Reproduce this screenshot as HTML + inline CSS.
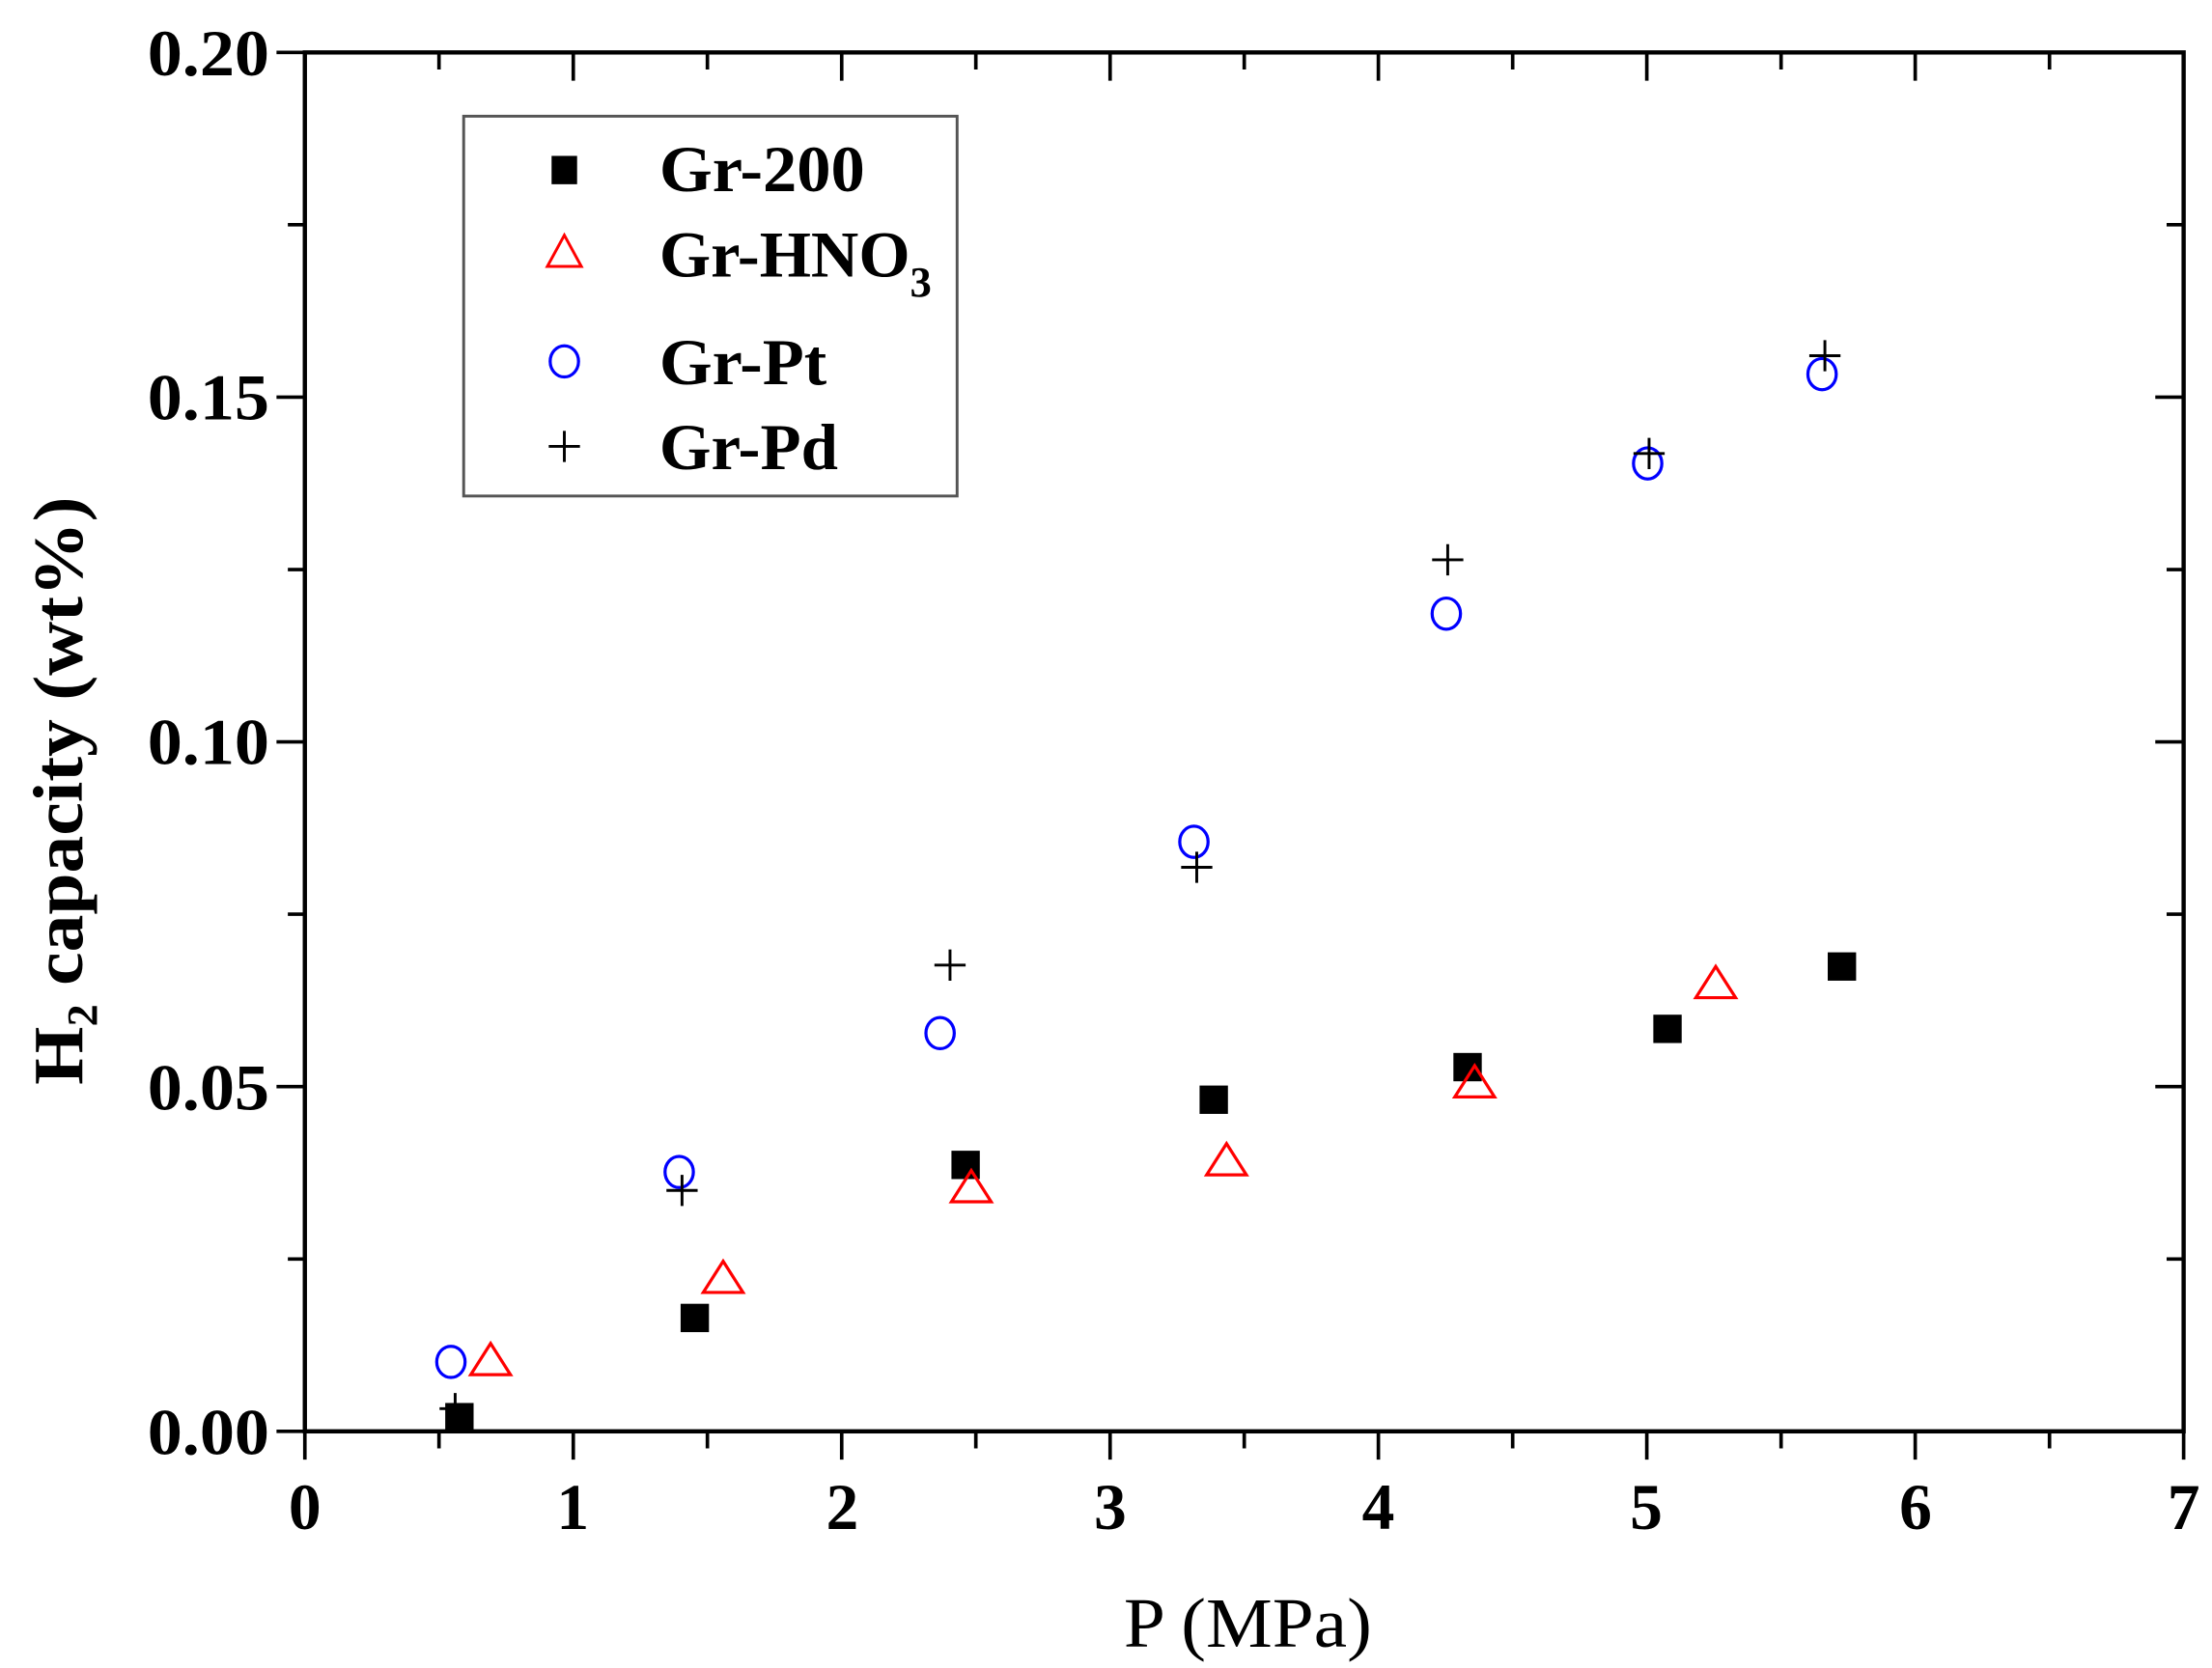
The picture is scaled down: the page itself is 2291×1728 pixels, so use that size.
<!DOCTYPE html>
<html><head><style>html,body{margin:0;padding:0;background:#fff;}svg{display:block}
text{font-family:"Liberation Serif","Times New Roman",serif;}</style></head>
<body>
<svg width="2291" height="1728" viewBox="0 0 1560 1177" preserveAspectRatio="none" xmlns="http://www.w3.org/2000/svg">
<rect width="1560" height="1177" fill="#fff"/>
<g stroke="#000" stroke-width="3" fill="none">
<rect x="215" y="37" width="1325" height="973"/>
<path d="M215 1010v20M404.3 1010v20M593.6 1010v20M782.9 1010v20M972.1 1010v20M1161.4 1010v20M1350.7 1010v20M1540 1010v20
M309.6 1010v12M498.9 1010v12M688.2 1010v12M877.5 1010v12M1066.8 1010v12M1256.1 1010v12M1445.4 1010v12
M404.3 37v20M593.6 37v20M782.9 37v20M972.1 37v20M1161.4 37v20M1350.7 37v20
M309.6 37v12M498.9 37v12M688.2 37v12M877.5 37v12M1066.8 37v12M1256.1 37v12M1445.4 37v12
M195 1010h20M195 766.75h20M195 523.5h20M195 280.25h20M195 37h20
M203 888.4h12M203 645.1h12M203 401.9h12M203 158.6h12
M1520 766.75h20M1520 523.5h20M1520 280.25h20
M1528 888.4h12M1528 645.1h12M1528 401.9h12M1528 158.6h12" stroke-width="2.5"/>
</g>
<g font-weight="bold" font-size="46" fill="#000" text-anchor="end">
<text x="190" y="1026" textLength="86" lengthAdjust="spacingAndGlyphs">0.00</text>
<text x="190" y="783" textLength="86" lengthAdjust="spacingAndGlyphs">0.05</text>
<text x="190" y="539" textLength="86" lengthAdjust="spacingAndGlyphs">0.10</text>
<text x="190" y="296" textLength="86" lengthAdjust="spacingAndGlyphs">0.15</text>
<text x="190" y="53" textLength="86" lengthAdjust="spacingAndGlyphs">0.20</text>
</g>
<g font-weight="bold" font-size="46" fill="#000" text-anchor="middle">
<text x="215" y="1079">0</text><text x="404" y="1079">1</text><text x="594" y="1079">2</text>
<text x="783" y="1079">3</text><text x="972" y="1079">4</text><text x="1161" y="1079">5</text>
<text x="1351" y="1079">6</text><text x="1540" y="1079">7</text>
</g>
<text x="880" y="1162" font-size="50" text-anchor="middle" textLength="175" lengthAdjust="spacingAndGlyphs">P (MPa)</text>
<text transform="translate(58,558) rotate(-90)" font-weight="bold" font-size="50" text-anchor="middle" textLength="415" lengthAdjust="spacingAndGlyphs">H<tspan font-size="30" dy="10">2</tspan><tspan dy="-10"> capacity (wt%)</tspan></text>
<rect x="327" y="82" width="348" height="268" fill="#fff" stroke="#555" stroke-width="2"/>
<rect x="389" y="110" width="18" height="20" fill="#000"/>
<path d="M398 166 L410 188 L386 188 Z" fill="none" stroke="#f00" stroke-width="2"/>
<ellipse cx="398" cy="255" rx="10" ry="11" fill="none" stroke="#00f" stroke-width="2.2"/>
<path d="M398 304v22M387 315h22" stroke="#000" stroke-width="2"/>
<g font-weight="bold" font-size="46" fill="#000">
<text x="465" y="135" textLength="145" lengthAdjust="spacingAndGlyphs">Gr-200</text>
<text x="465" y="195" textLength="192" lengthAdjust="spacingAndGlyphs">Gr-HNO<tspan font-size="30" dy="14">3</tspan></text>
<text x="465" y="271" textLength="118" lengthAdjust="spacingAndGlyphs">Gr-Pt</text>
<text x="465" y="331" textLength="126" lengthAdjust="spacingAndGlyphs">Gr-Pd</text>
</g>
<g fill="#000">
<rect x="314" y="990" width="20" height="20"/>
<rect x="480" y="920" width="20" height="20"/>
<rect x="671" y="812" width="20" height="20"/>
<rect x="846" y="766" width="20" height="20"/>
<rect x="1025" y="743" width="20" height="20"/>
<rect x="1166" y="716" width="20" height="20"/>
<rect x="1289" y="672" width="20" height="20"/>
</g>
<g fill="none" stroke="#f00" stroke-width="2.2">
<path d="M346 948 L360 970 L332 970 Z"/>
<path d="M510 890 L524 912 L496 912 Z"/>
<path d="M685 826 L699 848 L671 848 Z"/>
<path d="M865 807 L879 829 L851 829 Z"/>
<path d="M1040 752 L1054 774 L1026 774 Z"/>
<path d="M1210 682 L1224 704 L1196 704 Z"/>
</g>
<g fill="none" stroke="#00f" stroke-width="2.2">
<ellipse cx="318" cy="961" rx="10" ry="11"/>
<ellipse cx="479" cy="827" rx="10" ry="11"/>
<ellipse cx="663" cy="729" rx="10" ry="11"/>
<ellipse cx="842" cy="594" rx="10" ry="11"/>
<ellipse cx="1020" cy="433" rx="10" ry="11"/>
<ellipse cx="1162" cy="327" rx="10" ry="11"/>
<ellipse cx="1285" cy="264" rx="10" ry="11"/>
</g>
<g stroke="#000" stroke-width="2">
<path d="M321 983v22M310 994h22"/>
<path d="M481 829v22M470 840h22"/>
<path d="M670 670v22M659 681h22"/>
<path d="M844 601v22M833 612h22"/>
<path d="M1021 384v22M1010 395h22"/>
<path d="M1163 309v22M1152 320h22"/>
<path d="M1287 240v22M1276 251h22"/>
</g>
</svg>
</body></html>
